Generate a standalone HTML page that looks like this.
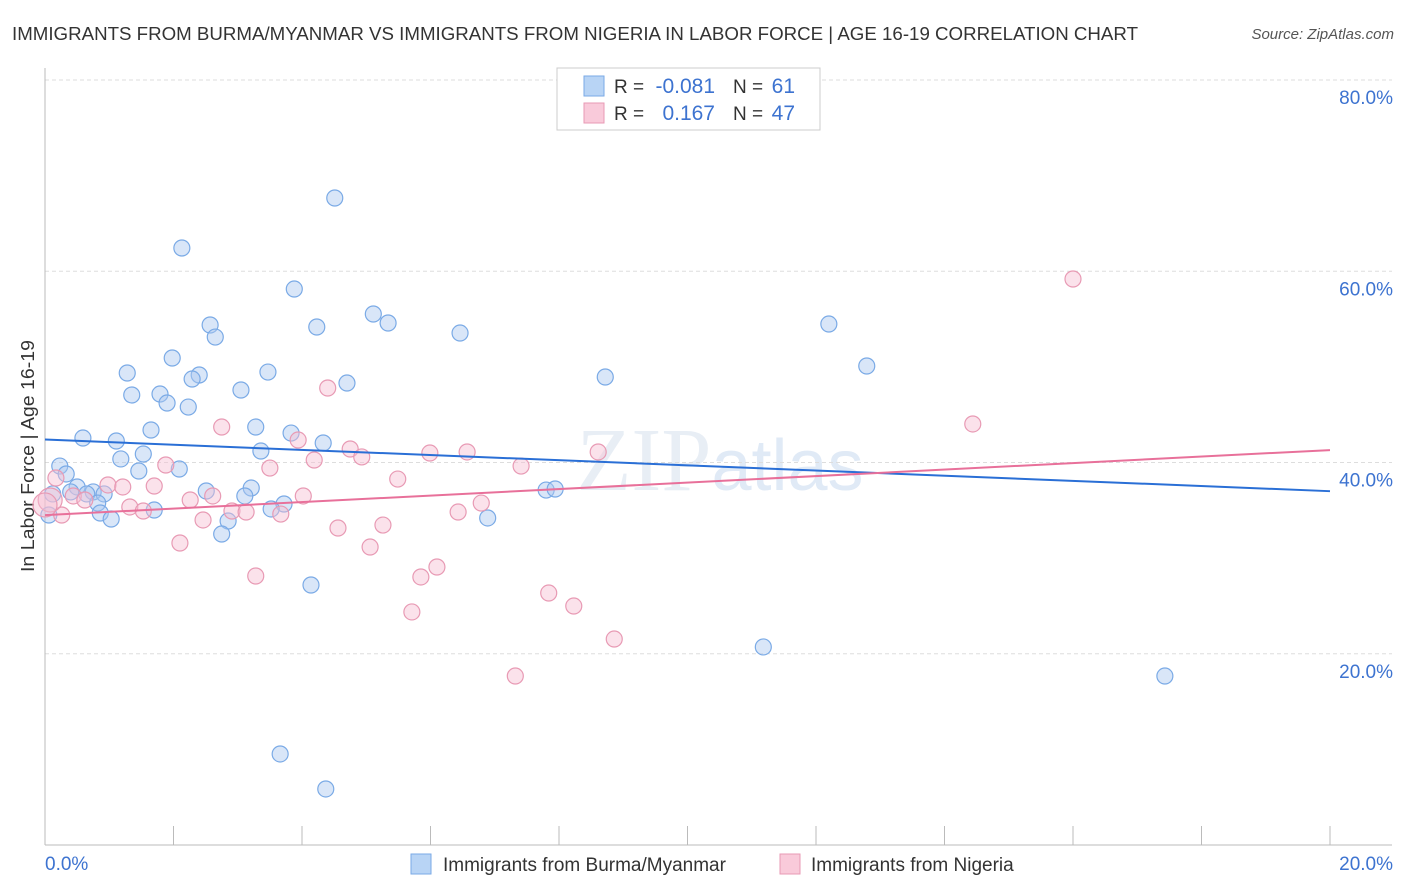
<!DOCTYPE html>
<html><head><meta charset="utf-8"><style>
body{margin:0;background:#fff;font-family:"Liberation Sans",sans-serif;}
svg{display:block}
</style></head><body>
<svg width="1406" height="892" id="chart">
<text x="12" y="40" font-size="18" fill="#333" textLength="1126" lengthAdjust="spacingAndGlyphs">IMMIGRANTS FROM BURMA/MYANMAR VS IMMIGRANTS FROM NIGERIA IN LABOR FORCE | AGE 16-19 CORRELATION CHART</text>
<text x="1394" y="39" font-size="15" fill="#555" font-style="italic" text-anchor="end">Source: ZipAtlas.com</text>
<text x="720" y="490" font-size="90" fill="#e8eef5" text-anchor="middle" font-family="Liberation Serif">ZIP<tspan font-family="Liberation Sans" font-size="72" fill="#e0eaf6">atlas</tspan></text>
<text transform="translate(34,456) rotate(-90)" font-size="18" fill="#333" text-anchor="middle" textLength="232" lengthAdjust="spacingAndGlyphs">In Labor Force | Age 16-19</text>
<g id="grid"></g><g id="axes"></g><g id="pts"></g><g id="lines"></g>
<g>
<rect x="557" y="68" width="263" height="62" fill="#fff" stroke="#ccc"/>
<rect x="584" y="76" width="20" height="20" fill="#b8d4f5" stroke="#7aaae6"/>
<rect x="584" y="103" width="20" height="20" fill="#f9cada" stroke="#e89ab4"/>
<text x="614" y="93" font-size="19" fill="#333">R =</text>
<text x="715" y="93" font-size="21" fill="#3d73d0" text-anchor="end">-0.081</text>
<text x="733" y="93" font-size="19" fill="#333">N =</text>
<text x="795" y="93" font-size="21" fill="#3d73d0" text-anchor="end">61</text>
<text x="614" y="120" font-size="19" fill="#333">R =</text>
<text x="715" y="120" font-size="21" fill="#3d73d0" text-anchor="end">0.167</text>
<text x="733" y="120" font-size="19" fill="#333">N =</text>
<text x="795" y="120" font-size="21" fill="#3d73d0" text-anchor="end">47</text>
</g>
<g>
<rect x="411" y="854" width="20" height="20" fill="#b8d4f5" stroke="#7aaae6"/>
<text x="443" y="871" font-size="19" fill="#333">Immigrants from Burma/Myanmar</text>
<rect x="780" y="854" width="20" height="20" fill="#f9cada" stroke="#e89ab4"/>
<text x="811" y="871" font-size="19" fill="#333">Immigrants from Nigeria</text>
</g>
</svg>
<script>
const blueX=[4.51,2.13,3.88,5.11,2.57,5.34,4.23,6.46,2.65,12.20,1.98,12.79,1.28,2.40,3.47,2.29,8.72,4.70,3.05,1.79,1.35,1.90,2.23,1.65,0.59,3.28,3.83,1.11,4.33,3.36,1.53,1.18,0.23,2.09,1.46,0.33,0.50,3.21,0.40,0.75,0.65,2.51,3.11,0.92,7.80,7.94,0.12,0.82,3.72,1.70,3.52,0.86,1.03,0.06,6.89,2.85,2.75,4.14,11.18,17.43,3.66,4.37];
const blueY=[67.66,62.43,58.14,55.53,54.38,54.59,54.17,53.54,53.12,54.48,50.93,50.09,49.36,49.15,49.46,48.73,48.94,48.31,47.58,47.16,47.06,46.22,45.80,43.40,42.56,43.71,43.08,42.25,42.04,41.20,40.89,40.37,39.63,39.32,39.11,38.80,37.44,37.33,36.92,36.92,36.71,37.02,36.50,36.71,37.12,37.23,36.71,35.76,35.66,35.03,35.14,34.72,34.09,34.51,34.20,33.88,32.52,27.19,20.71,17.67,9.52,5.86];
const pinkX=[16.00,4.40,14.44,2.75,3.94,4.75,4.93,4.19,5.99,6.57,8.61,1.88,3.50,7.41,5.49,0.98,1.21,1.70,0.17,0.44,2.61,4.02,2.26,6.79,0.62,1.32,1.53,2.91,3.13,3.67,6.43,0.26,2.46,4.56,5.26,2.10,5.06,3.28,5.85,6.10,7.84,8.23,5.71,8.86,7.32,0.08,0.0];
const pinkY=[59.19,47.79,44.03,43.71,42.35,41.41,40.58,40.26,40.99,41.10,41.10,39.74,39.42,39.63,38.27,37.65,37.44,37.54,38.38,36.50,36.50,36.50,36.08,35.76,36.08,35.35,34.93,34.93,34.82,34.61,34.82,34.51,33.99,33.15,33.46,31.58,31.16,28.13,28.03,29.07,26.35,24.99,24.37,21.54,17.67,36.08,35.56];
const blueTrend=[42.4,37.0];
const pinkTrend=[34.5,41.3];
const xTicks=[0,2,4,6,8,10,12,14,16,18,20];
const yTicks=[20,40,60,80];
const yLabels=["20.0%","40.0%","60.0%","80.0%"];
const NS="http://www.w3.org/2000/svg";
const sx=v=>45+v*64.25, sy=v=>845-v*9.5625;
function mk(t,a,p){const e=document.createElementNS(NS,t);for(const k in a)e.setAttribute(k,a[k]);document.getElementById(p).appendChild(e);return e;}
yTicks.forEach((v,i)=>{
 const g=mk('line',{x1:45,x2:1392,y1:sy(v),y2:sy(v),stroke:'#ddd','stroke-dasharray':'4,3'},'grid');
 
 
 const t=mk('text',{x:1393,y:sy(v)+24,'font-size':19,fill:'#3d73d0','text-anchor':'end'},'grid');
 t.textContent=yLabels[i];
 
 
});
let ax=mk('line',{x1:45,x2:45,y1:68,y2:845,stroke:'#bbb'},'axes');


ax=mk('line',{x1:45,x2:1392,y1:845,y2:845,stroke:'#bbb'},'axes');


xTicks.forEach(v=>{if(v===0)return;const l=mk('line',{x1:sx(v),x2:sx(v),y1:826,y2:845,stroke:'#bbb'},'axes');
 
 });
let t=mk('text',{x:45,y:870,'font-size':19,fill:'#3d73d0'},'axes');t.textContent='0.0%';


t=mk('text',{x:1393,y:870,'font-size':19,fill:'#3d73d0','text-anchor':'end'},'axes');t.textContent='20.0%';


blueX.forEach((x,i)=>{const c=mk('circle',{cx:sx(x),cy:sy(blueY[i]),r:8,fill:'rgba(170,200,240,0.45)',stroke:'#7aaae6','stroke-width':1.2},'pts');
 
 });
pinkX.forEach((x,i)=>{const c=mk('circle',{cx:sx(x),cy:sy(pinkY[i]),r:i>=45?12:8,fill:'rgba(247,190,210,0.45)',stroke:'#e89ab4','stroke-width':1.2},'pts');
 
 });
let ln=mk('line',{x1:sx(0),x2:sx(20),y1:sy(blueTrend[0]),y2:sy(blueTrend[1]),stroke:'#2a6fd6','stroke-width':2},'lines');


ln=mk('line',{x1:sx(0),x2:sx(20),y1:sy(pinkTrend[0]),y2:sy(pinkTrend[1]),stroke:'#e8709a','stroke-width':2},'lines');


</script>
</body></html>
